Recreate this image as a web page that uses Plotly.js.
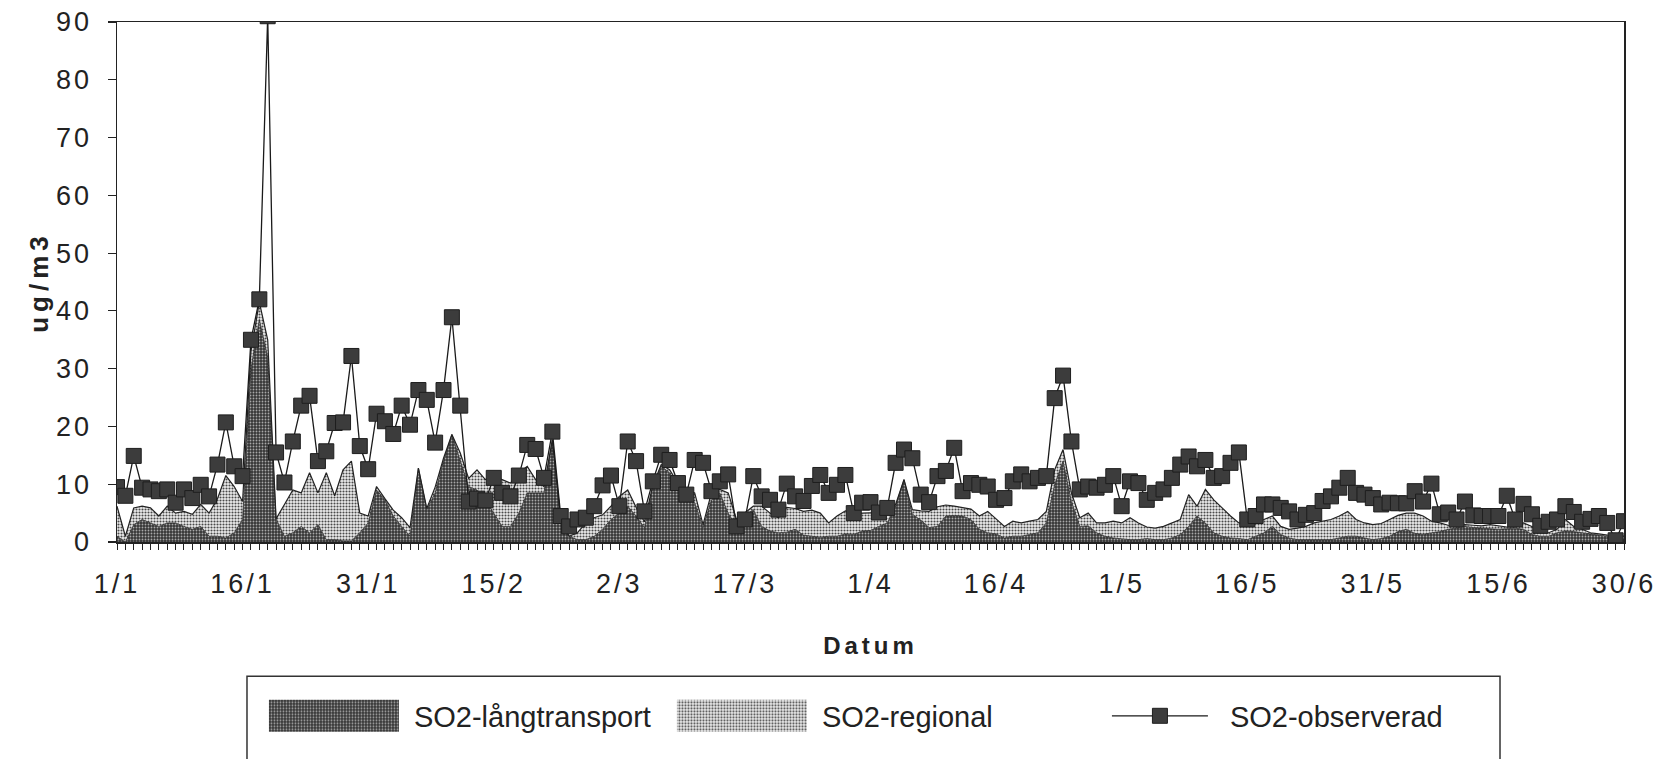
<!DOCTYPE html>
<html><head><meta charset="utf-8">
<script src="https://cdn.plot.ly/plotly-3.0.1.min.js"></script>
<style>
body{margin:0;background:#fff}
#chart{width:1668px;height:759px}
.xtick text,.ytick text{letter-spacing:3px}
.g-xtitle text{letter-spacing:4px}
.g-ytitle text{letter-spacing:5px}
</style></head><body><div id="chart"></div><script>
// day index 0 = 1/1, 180 = 30/6
const tickDays = [0,15,30,45,60,75,90,105,120,135,150,165,180];
const tickLabels = ['1/1','16/1','31/1','15/2','2/3','17/3','1/4','16/4','1/5','16/5','31/5','15/6','30/6'];

const langtransport = [
1.0,0.0,3.0,3.9,3.3,2.7,3.3,3.3,2.7,2.2,
2.7,1.0,1.0,0.7,1.6,3.9,30,38.5,32,4,
1.0,1.6,2.7,1.6,3.0,0.4,0.4,0.2,0.2,1.6,
3.3,9.0,7.3,4.5,2.7,1.0,12.8,5.6,8.5,14.0,
18.6,14.0,9.6,9.0,7.3,5.0,2.7,2.7,5.0,8.5,
8.5,8.5,17.7,3.9,1.0,0.4,0.4,1.0,2.2,3.9,
5.0,6.2,4.5,2.5,9.6,13.1,12.0,9.6,7.9,6.8,
2.5,7.3,8.5,5.0,2.7,4.5,5.6,2.7,1.9,1.6,
1.7,2.2,1.2,1.0,0.8,1.0,1.0,1.4,1.3,1.9,
2.0,2.7,3.3,6.2,10.8,4.8,3.8,2.5,2.7,4.5,
4.6,4.5,3.9,2.2,1.6,1.4,0.7,1.0,1.0,1.3,
1.6,3.3,10,14,7.0,2.7,2.8,1.6,1.0,0.7,
0.5,0.4,0.4,0.6,0.4,0.4,0.7,1.3,2.7,4.5,
3.3,1.6,1.0,0.7,0.6,0.4,1.0,1.6,2.7,1.3,
0.7,0.4,0.4,0.4,0.4,0.4,0.7,1.0,1.0,0.7,
0.4,0.6,1.0,1.8,2.2,1.5,1.3,1.6,1.8,2.2,
2.4,2.7,2.5,2.4,2.2,2.2,2.3,2.4,2.2,1.3,
1.0,1.0,1.6,1.9,1.8,1.6,1.4,1.3,1.0,0.5,0.5];

const regional = [
5.2,1.0,2.9,2.3,2.6,1.8,2.9,1.7,2.6,2.6,
3.8,4.0,6.5,10.8,8.0,3.1,3.0,3.0,3.0,0.0,
5.5,7.4,5.8,10.4,5.5,11.6,7.6,12.3,13.8,3.4,
1.2,0.6,0.2,1.0,1.5,1.5,0.0,0.2,1.0,0.5,
0.0,1.4,1.4,3.5,3.5,6.4,8.1,7.5,7.0,4.6,
2.3,1.1,0.0,0.0,0.0,1.2,2.9,3.2,2.5,2.3,
2.9,2.8,1.5,1.0,0.2,0.3,0.5,0.6,1.1,1.7,
0.5,1.2,0.6,3.5,1.2,0.5,0.6,3.5,3.1,2.6,
4.3,3.6,4.1,4.5,4.2,2.3,3.5,4.0,3.7,3.1,
3.0,2.4,2.0,0.3,0.0,0.8,1.6,2.8,3.4,1.9,
1.6,1.4,1.8,2.3,3.7,2.6,2.0,2.6,2.3,2.3,
2.3,2.0,2.5,2.0,1.5,1.5,2.2,1.7,2.3,2.9,
2.8,3.8,2.9,2.0,2.0,2.3,2.6,2.6,5.5,1.7,
5.8,5.7,4.9,3.8,2.7,2.6,2.3,2.3,1.8,1.4,
1.5,2.0,2.3,2.9,3.2,3.5,3.8,4.3,2.9,2.6,
2.6,2.6,2.9,2.8,2.8,3.5,3.2,2.0,1.5,0.7,
0.4,0.3,0.4,0.4,0.8,0.6,0.3,0.2,1.1,1.4,
0.6,0.6,0.6,2.0,0.9,0.6,0.2,0.1,0.2,0.5,0.5];

const observerad = [
9.5,8.0,14.9,9.4,9.1,8.8,9.1,6.8,9.1,7.6,
9.9,7.9,13.4,20.7,13.1,11.4,35.0,42.0,91.0,15.5,
10.3,17.4,23.6,25.3,14.0,15.7,20.6,20.7,32.2,16.6,
12.6,22.2,20.9,18.7,23.6,20.3,26.3,24.6,17.2,26.3,
38.9,23.6,7.0,7.5,7.2,11.1,8.5,7.9,11.5,16.8,
16.1,11.1,19.1,4.5,2.7,3.9,4.2,6.2,9.8,11.5,
6.2,17.4,14.0,5.3,10.5,15.1,14.2,10.2,8.2,14.2,
13.7,8.8,10.5,11.7,2.7,3.9,11.4,7.9,7.3,5.6,
10.1,7.9,7.1,9.7,11.6,8.5,9.9,11.6,5.0,6.8,
6.9,5.1,5.9,13.7,16.0,14.5,8.2,6.9,11.4,12.3,
16.3,8.8,10.2,9.9,9.6,7.3,7.6,10.5,11.7,10.5,
11.1,11.4,24.9,28.8,17.4,9.1,9.6,9.4,9.9,11.4,
6.2,10.5,10.2,7.3,8.5,9.1,11.1,13.4,14.8,13.1,
14.2,11.1,11.4,13.7,15.5,3.9,4.5,6.5,6.5,5.9,
5.3,3.9,4.7,5.0,7.1,7.9,9.4,11.1,8.5,8.2,
7.6,6.5,6.8,6.7,6.7,8.8,7.0,10.1,4.8,5.1,
3.9,7.0,4.6,4.5,4.5,4.5,8.0,3.9,6.6,4.8,
2.8,3.5,3.9,6.2,5.2,3.5,4.0,4.5,3.3,0.3,3.6];

const days = langtransport.map((_, i) => i);

const traces = [
  {x: days, y: langtransport, name: 'SO2-långtransport', type: 'scatter', mode: 'lines',
   stackgroup: 'model', line: {color: '#262626', width: 0.8},
   fillcolor: '#4a4a4a',
   fillpattern: {shape: '.', bgcolor: '#363636', fgcolor: '#a8a8a8', size: 3, solidity: 0.3}},
  {x: days, y: regional, name: 'SO2-regional', type: 'scatter', mode: 'lines',
   stackgroup: 'model', line: {color: '#222', width: 1.2},
   fillcolor: '#d0d0d0',
   fillpattern: {shape: '.', bgcolor: '#ededed', fgcolor: '#4a4a4a', size: 3, solidity: 0.4}},
  {x: days, y: observerad, name: 'SO2-observerad', type: 'scatter', mode: 'lines+markers',
   line: {color: '#1a1a1a', width: 1.3},
   marker: {symbol: 'square', size: 15, color: '#3c3c3c', line: {color: '#1e1e1e', width: 1}}}
];

const layout = {
  width: 1668, height: 759,
  margin: {l: 117, r: 44, t: 22, b: 217, pad: 0},
  paper_bgcolor: '#fff', plot_bgcolor: '#fff',
  font: {family: 'Liberation Sans, Arial, sans-serif', color: '#222', size: 24},
  showlegend: true,
  hovermode: false,
  legend: {orientation: 'h', x: 0.0975, y: -0.2855, xanchor: 'left', yanchor: 'top',
    font: {size: 29, color: '#222'}, itemwidth: 140, entrywidth: 253, entrywidthmode: 'pixels',
    bgcolor: 'rgba(0,0,0,0)', borderwidth: 0, traceorder: 'normal'},
  xaxis: {range: [0, 180], tickmode: 'array', tickvals: tickDays, ticktext: tickLabels,
    ticks: 'outside', ticklen: 6, tickwidth: 1, tickcolor: '#222',
    showline: true, linecolor: '#222', linewidth: 1.5, mirror: true, automargin: false,
    showgrid: false, zeroline: false, tickfont: {size: 27}, ticklabelstandoff: 11,
    minor: {tickmode: 'linear', tick0: 0, dtick: 1, ticks: 'outside', ticklen: 6, tickcolor: '#222', tickwidth: 1},
    title: {text: 'Datum', font: {size: 24, weight: 'bold'}, standoff: 39}},
  yaxis: {range: [0, 90], tick0: 0, dtick: 10, ticks: 'outside', ticklen: 8, tickwidth: 1.2, tickcolor: '#222',
    showline: true, linecolor: '#222', linewidth: 1.5, mirror: true, automargin: false,
    showgrid: false, zeroline: false, tickfont: {size: 27}, ticklabelstandoff: 10,
    title: {text: 'ug/m3', font: {size: 26, weight: 'bold'}, standoff: 0}},
  yaxis2: {overlaying: 'y', anchor: 'x', side: 'left', range: [0, 90], tick0: 0, dtick: 10,
    ticks: 'inside', ticklen: 8, tickwidth: 1.2, tickcolor: '#222', showticklabels: false,
    showline: false, showgrid: false, zeroline: false},
  shapes: [
    {type: 'rect', xref: 'paper', yref: 'paper', x0: 0.08626, x1: 0.91772, y0: -0.258, y1: -0.47,
     line: {color: '#333', width: 1.5}, fillcolor: 'rgba(0,0,0,0)'}
  ]
};

Plotly.newPlot('chart', traces, layout, {staticPlot: true, displayModeBar: false}).then(gd => {
  const items = gd.querySelectorAll('.legend .traces');
  items.forEach((g, i) => {
    if (i < 2) {
      g.querySelectorAll('.legendfill path').forEach(p => p.setAttribute('d', 'M5,-16h130v32h-130z'));
      g.querySelectorAll('.legendlines path').forEach(p => p.setAttribute('d', 'M0,0'));
    } else {
      g.querySelectorAll('.legendlines path').forEach(p => p.setAttribute('d', 'M32,0h96'));
      g.querySelectorAll('.legendpoints path').forEach(p => p.setAttribute('transform', 'translate(80,0)'));
    }
  });
});
</script></body></html>
